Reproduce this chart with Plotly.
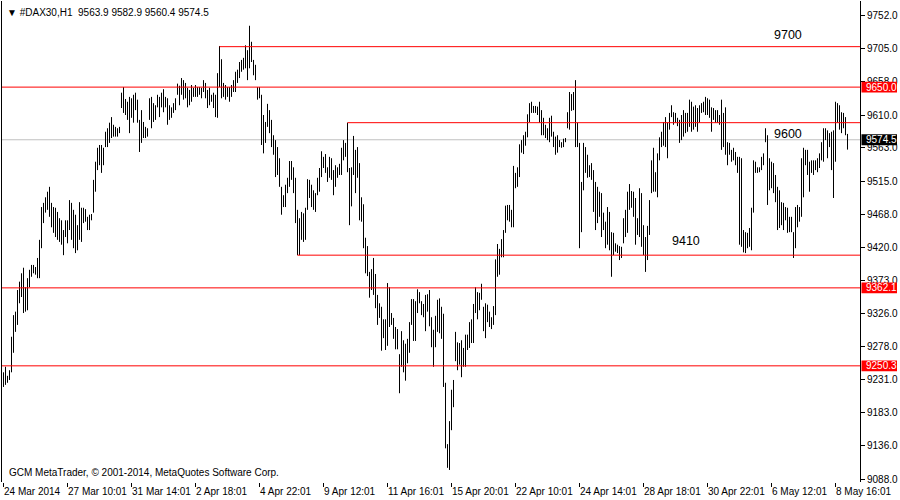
import plotly.graph_objects as go

# ---- data (H1 bars: high / low) ----
highs = [
    9241, 9249, 9236, 9244, 9292, 9323, 9328, 9359, 9371, 9383,
    9391, 9363, 9376, 9388, 9395, 9395, 9392, 9405, 9431, 9478,
    9484, 9492, 9500, 9507, 9484, 9478, 9477, 9471, 9462, 9459,
    9445, 9459, 9459, 9488, 9484, 9474, 9467, 9452, 9485, 9477,
    9477, 9475, 9464, 9467, 9468, 9517, 9543, 9563, 9567, 9567,
    9563, 9586, 9591, 9599, 9607, 9596, 9593, 9591, 9593, 9642,
    9650, 9633, 9629, 9636, 9634, 9639, 9642, 9632, 9603, 9617,
    9600, 9593, 9591, 9634, 9636, 9627, 9624, 9639, 9636, 9642,
    9647, 9636, 9634, 9624, 9621, 9627, 9634, 9655, 9652,
    9663, 9660, 9656, 9649, 9646, 9653, 9649, 9653, 9650, 9650,
    9649, 9660, 9656, 9646, 9649, 9639, 9642, 9639, 9670, 9709,
    9690, 9656, 9653, 9650, 9650, 9653, 9660, 9672, 9675, 9686,
    9689, 9692, 9710, 9703, 9738, 9715, 9689, 9682, 9650, 9650,
    9639, 9610, 9600, 9626, 9617, 9603, 9581, 9574, 9564, 9548,
    9507, 9495, 9510, 9520, 9544, 9544, 9535, 9520, 9474, 9462,
    9471, 9469, 9477, 9518, 9517, 9510, 9502, 9498, 9520, 9534,
    9558, 9550, 9554, 9535, 9550, 9548, 9531, 9538, 9535, 9540,
    9563, 9574, 9570, 9599,
    9534, 9535, 9580, 9560, 9564, 9541, 9492, 9482, 9434, 9422,
    9385, 9389, 9405, 9382, 9352, 9340, 9335, 9317, 9317, 9369,
    9363, 9326, 9319, 9306, 9303, 9267, 9300, 9287, 9282, 9289,
    9313, 9346, 9346, 9343, 9360, 9356, 9343, 9339, 9352, 9353,
    9359, 9320, 9302, 9322, 9345, 9347, 9335, 9325, 9226, 9138,
    9171, 9216, 9230, 9299, 9284, 9283, 9287, 9276, 9295, 9295,
    9313, 9317, 9339, 9363, 9356, 9355, 9368, 9335, 9340, 9338,
    9328, 9320, 9336, 9403, 9425, 9418, 9432, 9445, 9480, 9481,
    9481, 9474, 9537, 9527, 9535, 9568, 9574, 9581, 9586, 9611,
    9627, 9629, 9623, 9623, 9622, 9629, 9617, 9606, 9596, 9591,
    9606, 9609, 9586, 9579, 9581, 9574, 9571, 9576, 9577, 9614,
    9643, 9640, 9643, 9660, 9599, 9570, 9514, 9570, 9564, 9553,
    9538, 9541, 9531, 9514, 9507, 9500, 9498, 9470, 9457, 9478,
    9471, 9442, 9441, 9426, 9424, 9422, 9421, 9462, 9474, 9500,
    9511, 9501, 9500, 9491, 9462, 9505, 9498, 9452, 9435, 9451,
    9488, 9545, 9563, 9528, 9555, 9578, 9586, 9600, 9607, 9599,
    9613, 9624, 9614, 9613, 9606, 9603, 9610, 9617, 9613, 9613,
    9632, 9629, 9622, 9624, 9620, 9624,
    9627, 9629, 9636, 9634, 9632, 9621, 9620, 9617, 9617, 9610,
    9632, 9613, 9621, 9571, 9570, 9560, 9563, 9557, 9550, 9550,
    9548, 9445, 9442, 9441, 9448, 9477, 9545, 9543, 9535, 9535,
    9550, 9555, 9591, 9581, 9548, 9543, 9541, 9524, 9507, 9502,
    9485, 9484, 9478, 9477, 9464, 9464, 9442, 9478, 9481, 9478,
    9548, 9563, 9560, 9560, 9543, 9545, 9545, 9545, 9548, 9555,
    9571, 9591, 9591, 9588, 9584, 9586, 9588, 9629, 9627, 9624,
    9614, 9613, 9607, 9582.9,
]
lows = [
    9220, 9223, 9226, 9230, 9241, 9269, 9299, 9309, 9340, 9349,
    9326, 9328, 9330, 9363, 9378, 9383, 9381, 9376, 9376, 9419,
    9455, 9470, 9474, 9464, 9449, 9441, 9435, 9431, 9428, 9424,
    9409, 9435, 9426, 9445, 9431, 9419, 9412, 9416, 9431, 9428,
    9455, 9457, 9445, 9445, 9459, 9470, 9500, 9531, 9538, 9527,
    9538, 9564, 9564, 9570, 9577, 9579, 9579, 9579, 9584, 9620,
    9613, 9610, 9603, 9584, 9606, 9599, 9617, 9599, 9557, 9570,
    9577, 9577, 9579, 9603, 9591, 9600, 9603, 9621, 9607, 9621,
    9614, 9621, 9596, 9603, 9606, 9613, 9617, 9639, 9624,
    9639, 9632, 9634, 9621, 9624, 9629, 9636, 9636, 9636, 9639,
    9634, 9643, 9634, 9620, 9624, 9629, 9620, 9607, 9606, 9650,
    9634, 9636, 9632, 9636, 9629, 9636, 9643, 9643, 9656, 9663,
    9672, 9675, 9677, 9660, 9677, 9686, 9667, 9660, 9632, 9634,
    9567, 9555, 9570, 9593, 9584, 9564, 9553, 9521, 9524, 9507,
    9467, 9478, 9478, 9498, 9507, 9517, 9498, 9455, 9409, 9409,
    9431, 9428, 9431, 9474, 9491, 9478, 9474, 9471, 9495, 9500,
    9521, 9534, 9527, 9514, 9520, 9517, 9495, 9507, 9520, 9524,
    9524, 9545, 9550, 9528,
    9452, 9479, 9524, 9498, 9520, 9459, 9457, 9419, 9383, 9379,
    9348, 9359, 9352, 9333, 9309, 9319, 9272, 9290, 9273, 9279,
    9306, 9309, 9289, 9274, 9274, 9211, 9249, 9241, 9229, 9254,
    9269, 9309, 9286, 9286, 9326, 9340, 9323, 9320, 9300, 9328,
    9307, 9277, 9249, 9277, 9299, 9297, 9289, 9220, 9132, 9104,
    9101, 9158, 9191, 9257, 9244, 9252, 9234, 9249, 9249, 9273,
    9276, 9283, 9283, 9326, 9317, 9330, 9345, 9300, 9290, 9313,
    9306, 9303, 9309, 9323, 9378, 9381, 9406, 9406, 9441, 9459,
    9457, 9449, 9449, 9505, 9507, 9521, 9556, 9554, 9566, 9578,
    9600, 9613, 9613, 9613, 9610, 9599, 9581, 9581, 9577, 9574,
    9571, 9579, 9564, 9553, 9556, 9564, 9563, 9564, 9571, 9591,
    9589, 9616, 9617, 9564, 9564, 9419, 9442, 9502, 9527, 9520,
    9521, 9517, 9471, 9445, 9455, 9464, 9435, 9445, 9419, 9424,
    9416, 9378, 9409, 9414, 9412, 9402, 9405, 9426, 9435, 9441,
    9474, 9477, 9464, 9424, 9438, 9435, 9421, 9409, 9385, 9402,
    9438, 9498, 9500, 9500, 9492, 9545, 9564, 9566, 9564, 9548,
    9589, 9607, 9596, 9599, 9594, 9570, 9574, 9579, 9584, 9586,
    9593, 9586, 9589, 9593, 9586, 9599,
    9613, 9614, 9610, 9610, 9606, 9586, 9603, 9599, 9599, 9596,
    9560, 9564, 9553, 9538, 9553, 9543, 9545, 9538, 9527, 9424,
    9421, 9413, 9412, 9419, 9421, 9416, 9470, 9527, 9527, 9528,
    9531, 9538, 9571, 9481, 9502, 9505, 9498, 9485, 9445, 9448,
    9452, 9445, 9459, 9441, 9442, 9442, 9405, 9419, 9449, 9457,
    9464, 9492, 9538, 9524, 9500, 9527, 9524, 9531, 9528, 9534,
    9545, 9543, 9574, 9548, 9564, 9531, 9491, 9543, 9599, 9589,
    9584, 9591, 9581, 9560.4,
]

time_labels = ["24 Mar 2014", "27 Mar 10:01", "31 Mar 14:01", "2 Apr 18:01",
               "4 Apr 22:01", "9 Apr 12:01", "11 Apr 16:01", "15 Apr 20:01",
               "22 Apr 10:01", "24 Apr 14:01", "28 Apr 18:01", "30 Apr 22:01",
               "6 May 12:01", "8 May 16:01"]
time_label_bars = [0, 32, 64, 96, 128, 160, 192, 224, 256, 288, 320, 352, 384, 416]

price_ticks = [9752, 9705, 9658, 9610, 9563, 9515, 9468, 9420,
               9373, 9326, 9278, 9231, 9183, 9136, 9088]

marked_levels = [9650.0, 9362.1, 9250.3]       # full-width red lines with price tags
bid_price = 9574.5
trend_levels = [9708, 9599, 9409]               # user lines
trend_start_bars = [108, 172, 147]
trend_texts = ["9700", "9600", "9410"]

header = "▼ #DAX30,H1  9563.9 9582.9 9560.4 9574.5"
footer = "GCM MetaTrader, © 2001-2014, MetaQuotes Software Corp."

n = min(len(highs), len(lows))

# ---- layout geometry ----
W, H = 900, 500
ML, MR, MT, MB = 2, 40, 1, 18
PW = W - ML - MR
XMIN = -0.75
XMAX = XMIN + PW / 2.0
YMIN, YMAX = 9083.7, 9773.5

FONT = "Liberation Sans, Arial, sans-serif"

xs, ys = [], []
for i in range(n):
    xs += [i, i, None]
    ys += [lows[i], highs[i], None]

fig = go.Figure()
fig.add_trace(go.Scatter(x=xs, y=ys, mode="lines",
                         line=dict(color="black", width=1),
                         hoverinfo="skip", showlegend=False))

shapes = []
shapes.append(dict(type="line", xref="paper", x0=0, x1=1, yref="y",
                   y0=bid_price, y1=bid_price, line=dict(color="#C0C0C0", width=1),
                   layer="below"))
for lv in marked_levels:
    shapes.append(dict(type="line", xref="paper", x0=0, x1=1, yref="y",
                       y0=lv, y1=lv, line=dict(color="#FF0000", width=1)))
for lv, sb in zip(trend_levels, trend_start_bars):
    shapes.append(dict(type="line", xref="x", x0=sb, x1=XMAX, yref="y",
                       y0=lv, y1=lv, line=dict(color="#FF0000", width=1)))

tag_levels = marked_levels + [bid_price]
tag_colors = ["#FF0000"] * len(marked_levels) + ["#000000"]
half = 7.8
annotations = []
for lv, col in zip(tag_levels, tag_colors):
    shapes.append(dict(type="rect", xref="paper", x0=1 + 1.5 / PW, x1=1 + 37 / PW,
                       yref="y", y0=lv - half, y1=lv + half,
                       fillcolor=col, line=dict(width=0), layer="above"))
    annotations.append(dict(xref="paper", x=1, xshift=4, xanchor="left",
                            yref="y", y=lv, yanchor="middle", text=f"{lv:.1f}",
                            showarrow=False, font=dict(family=FONT, size=10, color="white")))

text_pos = [(392, 9725), (392, 9583), (341, 9430)]
for (tx, ty), t in zip(text_pos, trend_texts):
    annotations.append(dict(xref="x", x=tx, yref="y", y=ty, text=t, showarrow=False,
                            font=dict(family=FONT, size=12.5, color="black")))

annotations.append(dict(xref="paper", x=0, xshift=3, xanchor="left", yref="paper",
                        y=1, yshift=-4, yanchor="top", text=header, showarrow=False,
                        font=dict(family=FONT, size=10, color="black")))
annotations.append(dict(xref="paper", x=0, xshift=5, xanchor="left", yref="paper",
                        y=0, yshift=2, yanchor="bottom", text=footer, showarrow=False,
                        font=dict(family=FONT, size=10, color="black")))

fig.update_layout(
    width=W, height=H,
    margin=dict(l=ML, r=MR, t=MT, b=MB),
    paper_bgcolor="white", plot_bgcolor="white",
    shapes=shapes, annotations=annotations,
    showlegend=False,
    xaxis=dict(range=[XMIN, XMAX], showgrid=False, zeroline=False, automargin=False,
               tickmode="array", tickvals=time_label_bars, ticktext=time_labels,
               ticks="outside", ticklen=4, tickcolor="black", tickangle=0,
               ticklabelposition="outside right",
               tickfont=dict(family=FONT, size=10, color="black"),
               showline=False),
    yaxis=dict(range=[YMIN, YMAX], side="right", showgrid=False, zeroline=False,
               automargin=False,
               tickmode="array", tickvals=price_ticks,
               ticktext=[f"{v:.1f}" for v in price_ticks],
               ticks="outside", ticklen=4, tickcolor="black",
               tickfont=dict(family=FONT, size=10, color="black"),
               showline=True, linecolor="black", linewidth=1, mirror=True),
)

fig.write_html("out.html",
               config={"displayModeBar": False},
               post_script="document.body.style.margin='0';document.body.style.overflow='hidden';")
